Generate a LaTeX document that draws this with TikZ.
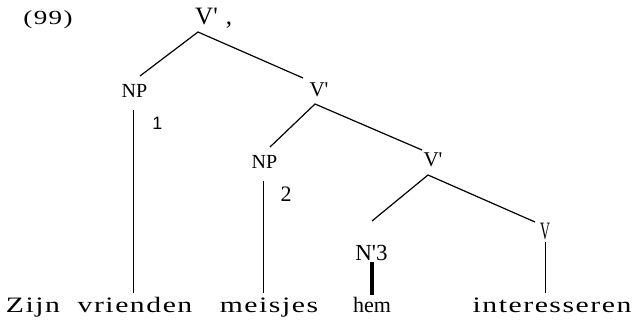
\documentclass[tikz,border=0pt]{standalone}
\usepackage{fontspec}
\setmainfont{Liberation Serif}
\newfontfamily\wide[FakeStretch=1.35,LetterSpace=7]{Liberation Serif}
\newfontfamily\plainsans{Liberation Sans}
\newcommand{\prm}{\textquotesingle}
\usetikzlibrary{calc}
\tikzset{
  cat/.style={inner sep=0pt, font=\fontsize{20}{20}\selectfont},
  word/.style={inner sep=0pt, anchor=base, font=\fontsize{22}{22}\wide},
  index/.style={inner sep=0pt, font=\fontsize{18}{18}\selectfont},
  branch/.style={line width=1.2pt},
  stem/.style={line width=0.8pt, shorten >=4pt},
  bar/.style={line width=4pt, shorten >=2pt}
}

\begin{document}
\begin{tikzpicture}[x=1pt,y=-1pt]
  \useasboundingbox (0,0) rectangle (640,321);
  % labels
  \node[cat, font=\fontsize{20}{20}\wide] (ex) at (48,20) {(99)};
  \node[cat, anchor=base west, font=\fontsize{25}{25}\selectfont] (v1) at (195,25) {V\prm\hspace{8pt},};
  \node[cat] (np1) at (134.5,91) {NP};
  \node[index, font=\fontsize{18}{18}\plainsans] (i1) at (157.5,123.5) {1};
  \node[cat, font=\fontsize{21}{21}\selectfont] (v2) at (319,90) {V\prm};
  \node[cat] (np2) at (264.5,161.5) {NP};
  \node[index, font=\fontsize{22}{22}\selectfont] (i2) at (286,194.5) {2};
  \node[cat, font=\fontsize{21}{21}\selectfont] (v3) at (433,160) {V\prm};
  \node[cat, font=\fontsize{23}{23}\selectfont] (n3) at (371.5,252.5) {N\prm3};
  \node[cat, font=\fontsize{25}{25}\selectfont] (v4) at (545,231.5) {\scalebox{0.55}[1]{V}};
  % words
  \node[word] (w1) at (33,312) {Zijn};
  \node[word] (w2) at (135,312) {vrienden};
  \node[word] (w3) at (269,312) {meisjes};
  \node[word, font=\fontsize{22}{22}\selectfont] (w4) at (372,312) {hem};
  \node[word] (w5) at (552,312) {interesseren};
  % branch ends
  \coordinate (v1-b) at (198,32);
  \coordinate (np1-t) at (140,76);
  \coordinate (np1-b) at (133,110);
  \coordinate (v2-t) at (303,78);
  \coordinate (v2-b) at (315,104);
  \coordinate (np2-t) at (270,147);
  \coordinate (np2-b) at (263,181);
  \coordinate (v3-t) at (422,150);
  \coordinate (v3-b) at (428,175);
  \coordinate (n3-t) at (372,221);
  \coordinate (n3-b) at (372,262);
  \coordinate (v4-t) at (535,222);
  \coordinate (v4-b) at (545,242);
  % tree
  \draw[branch] (np1-t) -- (v1-b) -- (v2-t);
  \draw[branch] (np2-t) -- (v2-b) -- (v3-t);
  \draw[branch] (n3-t) -- (v3-b) -- (v4-t);
  \draw[stem] (np1-b) -- (np1-b |- w2.north);
  \draw[stem] (np2-b) -- (np2-b |- w3.north);
  \draw[bar] (n3-b) -- (n3-b |- w4.north);
  \draw[stem] (v4-b) -- (v4-b |- w5.north);
\end{tikzpicture}
\end{document}
